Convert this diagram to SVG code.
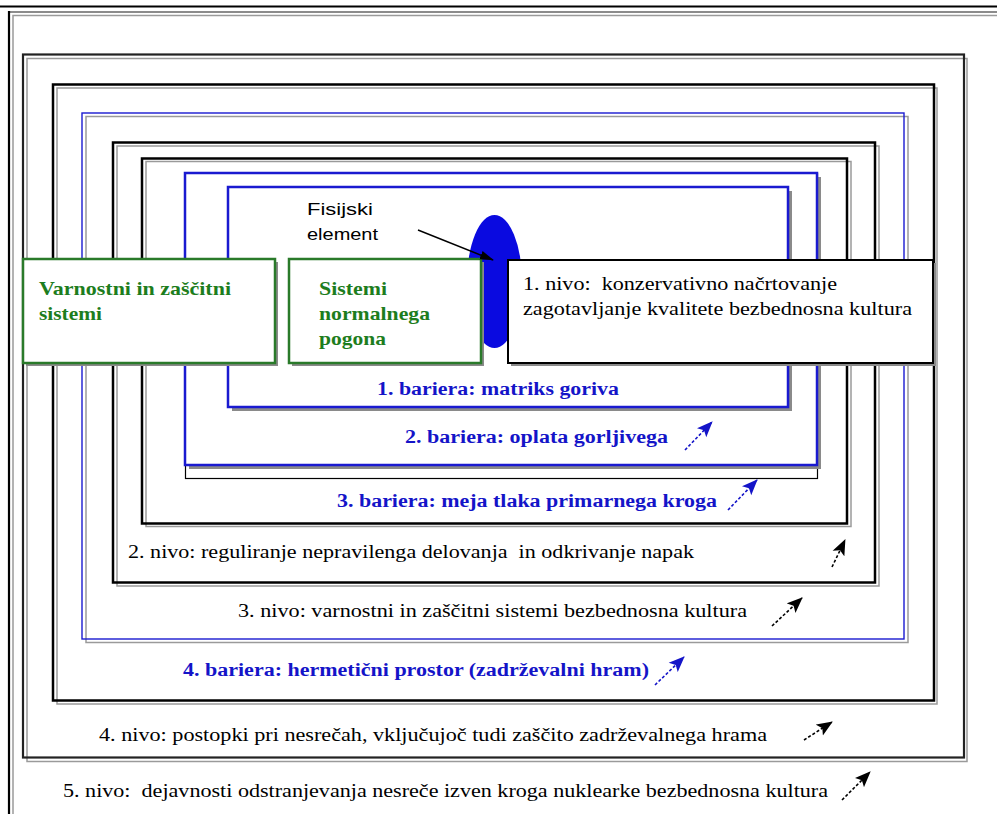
<svg xmlns="http://www.w3.org/2000/svg" width="997" height="814" viewBox="0 0 997 814">
<defs>
<marker id="ahK" markerUnits="userSpaceOnUse" markerWidth="16" markerHeight="14" viewBox="0 0 16 14" refX="15" refY="7" orient="auto"><path d="M0,0.5 L16,7 L0,13.5 L3.5,7 z" fill="#000"/></marker>
<marker id="ahB" markerUnits="userSpaceOnUse" markerWidth="16" markerHeight="14" viewBox="0 0 16 14" refX="15" refY="7" orient="auto"><path d="M0,0.5 L16,7 L0,13.5 L3.5,7 z" fill="#1414c8"/></marker>
<marker id="ahF" markerUnits="userSpaceOnUse" markerWidth="14" markerHeight="10" viewBox="0 0 14 10" refX="13" refY="5" orient="auto"><path d="M0,0.5 L14,5 L0,9.5 z" fill="#000"/></marker>
</defs>
<style>
.sh{fill:none;stroke:#9a9a9a;stroke-width:1.5}
.shf{fill:#8a8a8a;stroke:none}
.bk{fill:none;stroke:#000;stroke-width:2.5}
.t{font-family:'Liberation Serif','Times New Roman',serif;font-size:19px;fill:#000}
.tb{font-family:'Liberation Serif','Times New Roman',serif;font-size:18px;font-weight:bold;fill:#1414c8}
.tg{font-family:'Liberation Serif','Times New Roman',serif;font-size:19px;font-weight:bold;fill:#1d7d1d}
.ts{font-family:'Liberation Sans',Arial,sans-serif;font-size:17px;fill:#000}
.ak{fill:none;stroke:#000;stroke-width:1.6;stroke-dasharray:3 2;marker-end:url(#ahK)}
.ab{fill:none;stroke:#1414c8;stroke-width:1.6;stroke-dasharray:3 2;marker-end:url(#ahB)}
</style>
<rect width="997" height="814" fill="#fff"/>
<line x1="0" y1="6.5" x2="997" y2="6.5" stroke="#000" stroke-width="2"/>

<g id="frame-outer">
<rect class="sh" x="13" y="15.5" width="1000" height="900"/>
<line x1="9" y1="12" x2="1000" y2="12" stroke="#666" stroke-width="1.5"/>
<line x1="9" y1="11" x2="9" y2="814" stroke="#000" stroke-width="2.2"/>
</g>

<g id="level5-nivo">
<text class="t" x="63" y="797" textLength="765" lengthAdjust="spacingAndGlyphs" xml:space="preserve">5. nivo:  dejavnosti odstranjevanja nesreče izven kroga nuklearke bezbednosna kultura</text>
</g>

<g id="level4-nivo">
<rect class="sh" x="27" y="58.5" width="940" height="703"/>
<rect x="23" y="54.5" width="941" height="703" fill="none" stroke="#222" stroke-width="2.2"/>
<text class="t" x="99" y="741" textLength="668" lengthAdjust="spacingAndGlyphs">4. nivo: postopki pri nesrečah, vključujoč tudi zaščito zadrževalnega hrama</text>
</g>

<g id="barrier4">
<rect class="sh" x="57" y="88" width="880" height="616"/>
<rect class="bk" x="53" y="84.5" width="881" height="616"/>
<text class="tb" x="183" y="676" textLength="466" lengthAdjust="spacingAndGlyphs">4. bariera: hermetični prostor (zadrževalni hram)</text>
</g>

<g id="level3-nivo">
<rect class="sh" x="86" y="116.5" width="822" height="526"/>
<rect x="82" y="113" width="822" height="526" fill="none" stroke="#1a1ad0" stroke-width="1.4"/>
<text class="t" x="238" y="617" textLength="509" lengthAdjust="spacingAndGlyphs">3. nivo: varnostni in zaščitni sistemi bezbednosna kultura</text>
</g>

<g id="level2-nivo">
<rect class="sh" x="117" y="146" width="762" height="440"/>
<rect class="bk" x="113" y="142.5" width="762" height="440"/>
<text class="t" x="128" y="558" textLength="566" lengthAdjust="spacingAndGlyphs" xml:space="preserve">2. nivo: reguliranje nepravilenga delovanja  in odkrivanje napak</text>
</g>

<g id="barrier3">
<rect class="sh" x="146" y="161.5" width="705" height="365"/>
<rect class="bk" x="142" y="158.5" width="705" height="365" stroke-width="2.2"/>
<text class="tb" x="337" y="507" textLength="380" lengthAdjust="spacingAndGlyphs">3. bariera: meja tlaka primarnega kroga</text>
</g>

<g id="barrier2">
<rect x="185.5" y="173.5" width="632" height="305" fill="none" stroke="#000" stroke-width="1.2"/>
<rect class="shf" x="189" y="177" width="632" height="292"/>
<rect x="185" y="173" width="632" height="292" fill="#fff" stroke="#1a1ad0" stroke-width="2.5"/>
<text class="tb" x="405" y="443" textLength="263" lengthAdjust="spacingAndGlyphs">2. bariera: oplata gorljivega</text>
</g>

<g id="barrier1">
<rect class="shf" x="232" y="191" width="560" height="220"/>
<rect x="228" y="187" width="560" height="220" fill="#fff" stroke="#1a1ad0" stroke-width="2.5"/>
<text class="tb" x="377" y="395" textLength="242" lengthAdjust="spacingAndGlyphs">1. bariera: matriks goriva</text>
</g>

<g id="fuel-element">
<ellipse cx="494.5" cy="281.5" rx="27.5" ry="66.5" fill="#0a0ae0"/>
</g>

<g id="fisijski-label">
<text class="ts" x="307" y="215" textLength="66" lengthAdjust="spacingAndGlyphs">Fisijski</text>
<text class="ts" x="307" y="240" textLength="71" lengthAdjust="spacingAndGlyphs">element</text>
</g>

<g id="safety-systems">
<rect class="shf" x="26" y="262" width="252" height="104"/>
<rect x="23" y="259" width="252" height="104" fill="#fff" stroke="#2a7a2a" stroke-width="2.5"/>
<text class="tg" x="39" y="295" textLength="192" lengthAdjust="spacingAndGlyphs">Varnostni in zaščitni</text>
<text class="tg" x="39" y="320" textLength="63" lengthAdjust="spacingAndGlyphs">sistemi</text>
</g>

<g id="normal-systems">
<rect class="shf" x="292" y="262" width="192" height="104"/>
<rect x="289" y="259" width="192" height="104" fill="#fff" stroke="#2a7a2a" stroke-width="2.5"/>
<text class="tg" x="319" y="295" textLength="68" lengthAdjust="spacingAndGlyphs">Sistemi</text>
<text class="tg" x="319" y="320" textLength="111" lengthAdjust="spacingAndGlyphs">normalnega</text>
<text class="tg" x="319" y="345" textLength="67" lengthAdjust="spacingAndGlyphs">pogona</text>
</g>

<g id="level1-nivo">
<rect class="shf" x="511" y="263" width="425" height="103"/>
<rect x="508" y="260" width="425" height="103" fill="#fff" stroke="#000" stroke-width="2"/>
<text class="t" x="523" y="290" textLength="314" lengthAdjust="spacingAndGlyphs" xml:space="preserve">1. nivo:  konzervativno načrtovanje</text>
<text class="t" x="523" y="315" textLength="389" lengthAdjust="spacingAndGlyphs">zagotavljanje kvalitete bezbednosna kultura</text>
</g>

<g id="connectors">
<line x1="418" y1="230" x2="493" y2="260" stroke="#000" stroke-width="1.5" marker-end="url(#ahF)"/>
<line class="ab" x1="685" y1="450" x2="712" y2="422"/>
<line class="ab" x1="728" y1="510" x2="757" y2="480"/>
<line class="ak" x1="832" y1="567" x2="845" y2="540"/>
<line class="ak" x1="772" y1="626" x2="802" y2="598"/>
<line class="ab" x1="655" y1="685" x2="684" y2="657"/>
<line class="ak" x1="804" y1="740" x2="832" y2="722"/>
<line class="ak" x1="842" y1="800" x2="870" y2="772"/>
</g>
</svg>
